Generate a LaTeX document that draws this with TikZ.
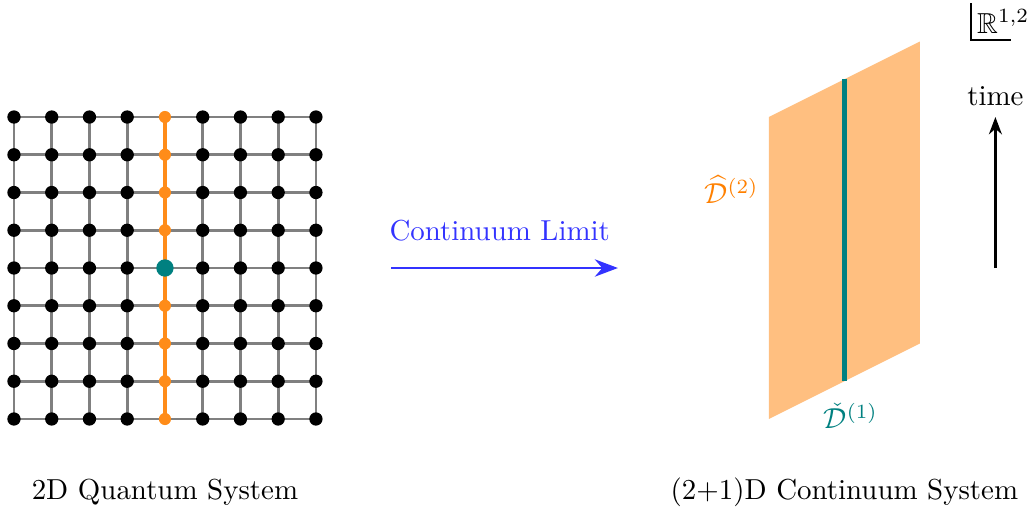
\documentclass[tikz,border=0pt]{standalone}
\usepackage{amssymb}
\usepackage{tikz}
\usetikzlibrary{arrows.meta,calc}

\begin{document}
\begin{tikzpicture}[
  x=0.459cm, y=0.459cm,
  site/.style={circle, fill=black, inner sep=0pt, minimum size=4.6pt},
  osite/.style={circle, fill=orange!90, inner sep=0pt, minimum size=4.2pt},
  csite/.style={circle, fill=teal, inner sep=0pt, minimum size=6pt},
  bond/.style={gray, line width=1pt},
  obond/.style={orange!90, line width=1.5pt},
  arr/.style={-{Stealth[length=6pt, width=4.5pt]}, thick},
  barr/.style={-{Stealth[length=8pt, width=6pt]}, thick, blue!80}
]
\useasboundingbox (-0.37,-2.36) rectangle (26.97,11.10);

% lattice
\foreach \i in {0,...,8}
  \foreach \j in {0,...,8}
    \coordinate (p-\i-\j) at (\i,\j);

\foreach \j in {0,...,8}
  \draw[bond] (p-0-\j) -- (p-8-\j);
\foreach \i in {0,1,2,3,5,6,7,8}
  \draw[bond] (p-\i-0) -- (p-\i-8);
\draw[obond] (p-4-0) -- (p-4-8);

\foreach \i in {0,1,2,3,5,6,7,8}
  \foreach \j in {0,...,8}
    \node[site] (d-\i-\j) at (p-\i-\j) {};
\foreach \j in {0,1,2,3,5,6,7,8}
  \node[osite] (d-4-\j) at (p-4-\j) {};
\node[csite] (d-4-4) at (p-4-4) {};

% continuum limit
\coordinate (cl-a) at (10,4);
\coordinate (cl-b) at (16,4);
\draw[barr] (cl-a) -- node[above=5.5pt, blue!80, xshift=-0.6mm] (cl-lab) {Continuum Limit} (cl-b);

% defect sheet
\coordinate (sh-a) at (20,0);
\coordinate (sh-b) at (24,2);
\coordinate (sh-c) at (24,10);
\coordinate (sh-d) at (20,8);
\fill[orange!50] (sh-a) -- (sh-b) -- (sh-c) -- (sh-d) -- cycle;
\coordinate (ln-a) at (22,1);
\coordinate (ln-b) at (22,9);
\draw[teal, line width=1.5pt] (ln-a) -- (ln-b);

\node[orange, left] (dhat) at (20,6.07) {$\widehat{\mathcal{D}}^{(2)}$};
\node[teal] (dcheck) at (22.17,0.08) {$\check{\mathcal{D}}^{(1)}$};

% time direction
\coordinate (t-a) at (26,4);
\coordinate (t-b) at (26,8);
\draw[arr] (t-a) -- (t-b) node[above] (tlab) {time};

\node[inner sep=2pt] (rr) at (26.21,10.53) {$\mathbb{R}^{1,2}$};
\draw[semithick] (rr.north west) |- ([xshift=0.9mm]rr.south);

% captions
\node (lq) at (4,-1.93) {2D Quantum System};
\node (lc) at (22,-1.93) {(2+1)D Continuum System};

\end{tikzpicture}
\end{document}
